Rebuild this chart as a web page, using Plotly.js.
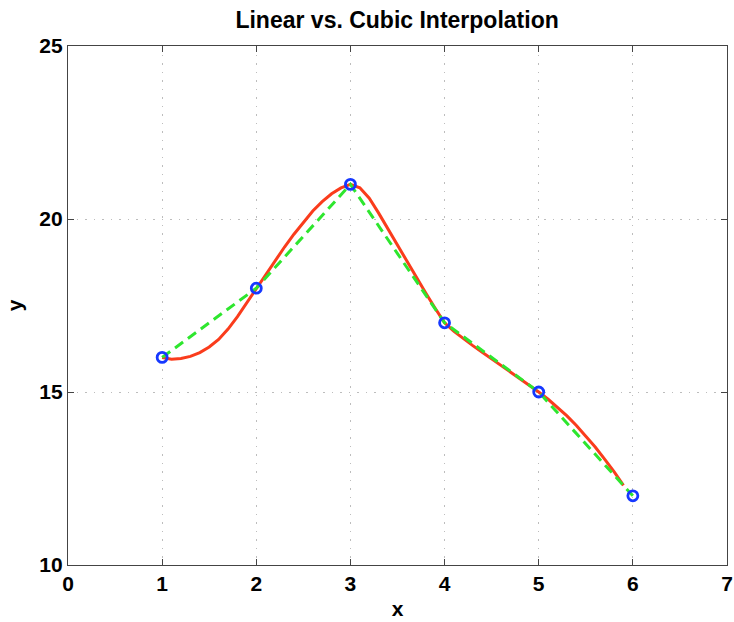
<!DOCTYPE html>
<html>
<head>
<meta charset="utf-8">
<script src="https://cdn.plot.ly/plotly-3.0.1.min.js"></script>
<style>html,body{margin:0;padding:0;background:#fff;}#chart{width:734px;height:622px;}</style>
</head>
<body>
<div id="chart"></div>
<script>
// Data points
const dataX = [1, 2, 3, 4, 5, 6];
const dataY = [16, 18, 21, 17, 15, 12];

// Linear interpolation (dashed green) passes through data
const linearX = [1, 2, 3, 4, 5, 6];
const linearY = [16, 18, 21, 17, 15, 12];

// Cubic interpolation curve (red)
const cubicX = [1.0, 1.1, 1.2, 1.3, 1.4, 1.5, 1.6, 1.7, 1.8, 1.9,
                2.0, 2.1, 2.2, 2.3, 2.4, 2.5, 2.6, 2.7, 2.8, 2.9,
                3.0, 3.1, 3.2, 3.3, 3.4, 3.5, 3.6, 3.7, 3.8, 3.9,
                4.0, 4.1, 4.2, 4.3, 4.4, 4.5, 4.6, 4.7, 4.8, 4.9,
                5.0, 5.1, 5.2, 5.3, 5.4, 5.5, 5.6, 5.7, 5.8, 5.9];
const cubicY = [16.0, 15.95, 15.97, 16.03, 16.14, 16.3, 16.52, 16.82, 17.18, 17.58,
                18.0, 18.4, 18.8, 19.19, 19.56, 19.91, 20.23, 20.5, 20.73, 20.9,
                21.0, 20.9, 20.6, 20.17, 19.7, 19.23, 18.77, 18.31, 17.86, 17.42,
                17.0, 16.75, 16.54, 16.34, 16.15, 15.96, 15.77, 15.58, 15.39, 15.2,
                15.0, 14.79, 14.56, 14.31, 14.03, 13.73, 13.41, 13.06, 12.7, 12.3];

const xTicks = [0, 1, 2, 3, 4, 5, 6, 7];
const yTicks = [10, 15, 20, 25];

const FONT = '"Liberation Sans", Arial, Helvetica, sans-serif';

const traces = [
  {x: cubicX, y: cubicY, mode: 'lines', line: {color: '#fa3c1c', width: 3, shape: 'linear'}, hoverinfo: 'skip'},
  {x: linearX, y: linearY, mode: 'lines', line: {color: '#2ee62e', width: 3, dash: '10px,6px'}, hoverinfo: 'skip'},
  {x: dataX, y: dataY, mode: 'markers', marker: {symbol: 'circle-open', size: 10, color: '#1638ff', line: {width: 2.8, color: '#1638ff'}}}
];

const axisCommon = {
  ticks: 'inside', ticklen: 6, tickwidth: 1, tickcolor: '#444',
  showline: true, linecolor: '#444', linewidth: 1.2, mirror: 'ticks',
  showgrid: true, gridcolor: '#bdbdbd', griddash: '1.5px,7px', gridwidth: 1,
  zeroline: false, fixedrange: true,
  tickfont: {family: FONT, size: 21, color: '#000', weight: 'bold'}
};

const layout = {
  width: 734, height: 622,
  margin: {l: 68, r: 7, t: 46, b: 57},
  paper_bgcolor: '#fff', plot_bgcolor: '#fff',
  showlegend: false,
  title: {text: 'Linear vs. Cubic Interpolation', x: 0.541, xanchor: 'center', y: 0.968, yanchor: 'middle',
          font: {family: FONT, size: 23, color: '#000', weight: 'bold'}},
  xaxis: Object.assign({}, axisCommon, {range: [0, 7], tickvals: xTicks, ticktext: xTicks.map(String),
          title: {text: 'x', standoff: 6, font: {family: FONT, size: 21, color: '#000', weight: 'bold'}}}),
  yaxis: Object.assign({}, axisCommon, {range: [10, 25], tickvals: yTicks, ticktext: yTicks.map(String),
          title: {text: 'y', standoff: 10, font: {family: FONT, size: 21, color: '#000', weight: 'bold'}}})
};

Plotly.newPlot('chart', traces, layout, {displayModeBar: false, staticPlot: true});
</script>
</body>
</html>
